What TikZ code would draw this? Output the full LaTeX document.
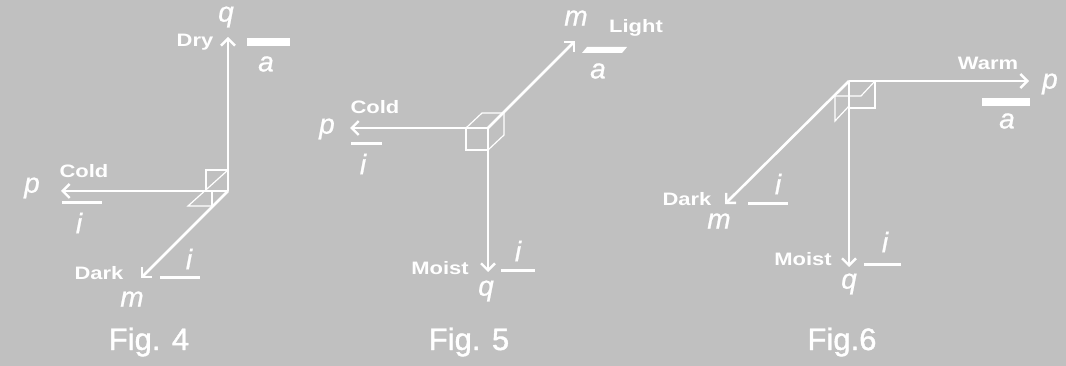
\documentclass[tikz,border=0pt]{standalone}
\usepackage{fontspec}
\setmainfont{Liberation Sans}
\usetikzlibrary{arrows.meta}
\definecolor{bg}{HTML}{C0C0C0}
\newcommand\xwlbl[1]{\scalebox{1.22}[1]{#1}}
\tikzset{
  axisarrow/.style={white, line width=2.6pt, -{Straight Barb[length=7pt,width=14pt,line width=2.4pt]}},
  cubeline/.style={white, line width=1.2pt},
  lbl/.style={text=white, font=\fontsize{18}{18}\selectfont\bfseries, inner sep=0pt},
  var/.style={text=white, font=\fontsize{28}{28}\selectfont\itshape\addfontfeature{FakeBold=0.8}, inner sep=0pt},
  figlbl/.style={text=white, font=\fontsize{31}{31}\selectfont\addfontfeature{FakeBold=1.2}, inner sep=0pt},
  thinbar/.style={white, line width=3pt},
  thickbar/.style={white, line width=8pt},
}
\begin{document}
\begin{tikzpicture}[x=1pt,y=-1pt]
\fill[bg] (0,0) rectangle (1066,366);
\useasboundingbox (0,0) rectangle (1066,366);

% ---------------- Fig. 4 ----------------
\coordinate (o4) at (228,191);
\coordinate (q4) at (228,37);
\coordinate (p4) at (61,191);
\coordinate (m4) at (141,278);
\draw[cubeline] (206,191) -- (206,170) -- (228,170);
\coordinate (c4a) at (228,170);
\coordinate (c4b) at (188,206);
\coordinate (c4c) at (213,206);
\coordinate (c4d) at (212,191);
\draw[cubeline] (c4a) -- (c4b) -- (c4c);
\draw[cubeline] (c4d) -- (212,206);
\draw[axisarrow] (o4) -- (q4);
\draw[axisarrow] (o4) -- (p4);
\draw[axisarrow] (o4) -- (m4);
\node[var] (q4l) at (226,17) {q};
\node[lbl] (dry4) at (195,42) {\xwlbl{Dry}};
\draw[thickbar] (247,42.5) -- (290,42.5);
\node[var] (a4) at (266,64) {a};
\node[lbl] (cold4) at (84,171) {\xwlbl{Cold}};
\node[var] (p4l) at (32,188) {p};
\draw[thinbar] (62,203) -- (102,203);
\node[var] (i4a) at (79,223) {i};
\node[lbl] (dark4) at (99,273) {\xwlbl{Dark}};
\node[var] (m4l) at (132,299) {m};
\draw[thinbar] (160,278) -- (200,278);
\node[var] (i4b) at (189,259) {i};
\node[figlbl] (f4) at (149,342) {Fig. 4};

% ---------------- Fig. 5 ----------------
\coordinate (o5) at (488,128);
\coordinate (p5) at (350,128);
\coordinate (q5) at (488,272);
\coordinate (m5) at (575,41);
\draw[cubeline] (466,128) -- (466,150) -- (488,150);
\draw[cubeline] (466,128) -- (482,113) -- (504,113) -- (504,135) -- (488,150);
\draw[axisarrow] (o5) -- (p5);
\draw[axisarrow] (o5) -- (q5);
\draw[axisarrow] (o5) -- (m5);
\node[var] (m5l) at (576,18) {m};
\node[lbl] (light5) at (636,28) {\xwlbl{Light}};
\fill[white] (582,53) -- (587,47) -- (627,47) -- (622,53) -- cycle;
\node[var] (a5) at (598,71) {a};
\node[lbl] (cold5) at (375,107) {\xwlbl{Cold}};
\node[var] (p5l) at (327,129) {p};
\draw[thinbar] (351,144) -- (382,144);
\node[var] (i5a) at (363,164) {i};
\node[lbl] (moist5) at (440,268) {\xwlbl{Moist}};
\node[var] (q5l) at (486,291) {q};
\draw[thinbar] (501,271) -- (535,271);
\node[var] (i5b) at (518,251) {i};
\node[figlbl] (f5) at (469,342) {Fig. 5};

% ---------------- Fig. 6 ----------------
\coordinate (o6) at (849,81);
\coordinate (p6) at (1029,81);
\coordinate (q6) at (849,267);
\coordinate (m6) at (725,204);
\draw[cubeline] (849,108) -- (875,108) -- (875,81);
\draw[cubeline] (875,81) -- (861,96) -- (835,96);
\draw[cubeline] (835,96) -- (835,121) -- (849,106);
\draw[axisarrow] (o6) -- (p6);
\draw[axisarrow] (o6) -- (q6);
\draw[axisarrow] (o6) -- (m6);
\node[lbl] (warm6) at (988,63) {\xwlbl{Warm}};
\node[var] (p6l) at (1050,84) {p};
\draw[thickbar] (982,102.5) -- (1030,102.5);
\node[var] (a6) at (1007,121) {a};
\node[lbl] (dark6) at (687,199) {\xwlbl{Dark}};
\node[var] (m6l) at (719,221) {m};
\draw[thinbar] (748,204) -- (788,204);
\node[var] (i6a) at (778,184) {i};
\node[lbl] (moist6) at (803,259) {\xwlbl{Moist}};
\node[var] (q6l) at (849,284) {q};
\draw[thinbar] (864,265) -- (901,265);
\node[var] (i6b) at (885,242) {i};
\node[figlbl] (f6) at (842,342) {Fig.6};
\end{tikzpicture}
\end{document}
